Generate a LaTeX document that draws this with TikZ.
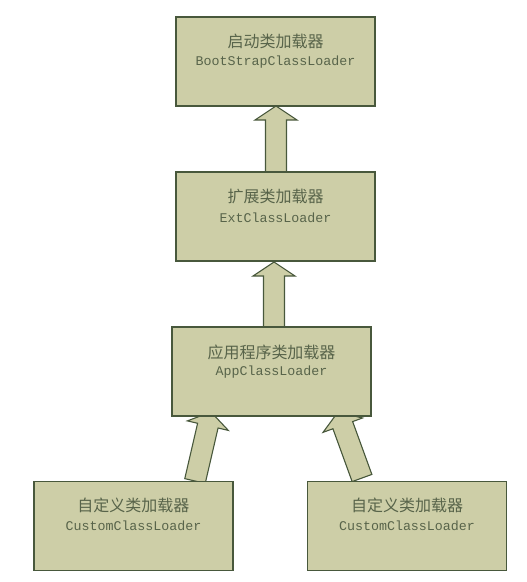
\documentclass[tikz,border=0pt]{standalone}
\usepackage{fontspec}
\newfontfamily\cjk{Noto Sans CJK SC}
\newfontfamily\monof{Liberation Mono}
\usetikzlibrary{calc}
\definecolor{boxfill}{RGB}{205,206,167}
\definecolor{boxline}{RGB}{72,88,60}
\definecolor{txtcol}{RGB}{88,100,74}
\tikzset{
  loaderbox/.style={draw=boxline, fill=boxfill, line width=1.3pt, minimum width=199pt, minimum height=89pt, inner sep=0pt},
  blockarrow/.style={draw=boxline, fill=boxfill, line width=1.1pt, line join=miter},
  cntext/.style={font=\cjk\fontsize{16pt}{18pt}\selectfont, text=txtcol, inner sep=0pt},
  entext/.style={font=\monof\fontsize{13.3pt}{15pt}\selectfont, text=txtcol, inner sep=0pt}
}
% #1 tail, #2 tip, #3 name prefix
\newcommand{\drawblockarrow}[3]{%
  \coordinate (#3h) at ($(#2)!14pt!(#1)$);
  \draw[blockarrow]
    ($(#1)!10.5pt!90:(#2)$) --
    ($(#3h)!10.5pt!-90:(#1)$) --
    ($(#3h)!21pt!-90:(#1)$) --
    (#2) --
    ($(#3h)!21pt!90:(#1)$) --
    ($(#3h)!10.5pt!90:(#1)$) --
    ($(#1)!10.5pt!-90:(#2)$) -- cycle;
}
\begin{document}
\begin{tikzpicture}[x=1pt,y=-1pt]
\useasboundingbox (0,0) rectangle (527,582);
% coordinates for arrow ends
\coordinate (a1tail) at (276,172);
\coordinate (a1tip) at (276,106);
\coordinate (a2tail) at (274,327);
\coordinate (a2tip) at (274,262);
\coordinate (a3tail) at (195,481);
\coordinate (a3tip) at (211,412);
\coordinate (a4tail) at (362,478);
\coordinate (a4tip) at (338,412);
% arrows (behind boxes)
\drawblockarrow{a1tail}{a1tip}{a1}
\drawblockarrow{a2tail}{a2tip}{a2}
\drawblockarrow{a3tail}{a3tip}{a3}
\drawblockarrow{a4tail}{a4tip}{a4}
% boxes
\node[loaderbox] (boot) at (275.5,61.5) {};
\node[loaderbox] (ext) at (275.5,216.5) {};
\node[loaderbox] (app) at (271.5,371.5) {};
\node[loaderbox] (cust1) at (133.5,526) {};
\node[loaderbox] (cust2) at (407,526) {};
% texts
\node[cntext] (bootcn) at ([yshift=-25pt]boot.north) {启动类加载器};
\node[entext] (booten) at ([yshift=-46pt]boot.north) {BootStrapClassLoader};
\node[cntext] (extcn) at ([yshift=-25pt]ext.north) {扩展类加载器};
\node[entext] (exten) at ([yshift=-46pt]ext.north) {ExtClassLoader};
\node[cntext] (appcn) at ([yshift=-26pt]app.north) {应用程序类加载器};
\node[entext] (appen) at ([yshift=-46pt]app.north) {AppClassLoader};
\node[cntext] (c1cn) at ([yshift=-25pt]cust1.north) {自定义类加载器};
\node[entext] (c1en) at ([yshift=-45pt]cust1.north) {CustomClassLoader};
\node[cntext] (c2cn) at ([yshift=-25pt]cust2.north) {自定义类加载器};
\node[entext] (c2en) at ([yshift=-45pt]cust2.north) {CustomClassLoader};
\end{tikzpicture}
\end{document}
